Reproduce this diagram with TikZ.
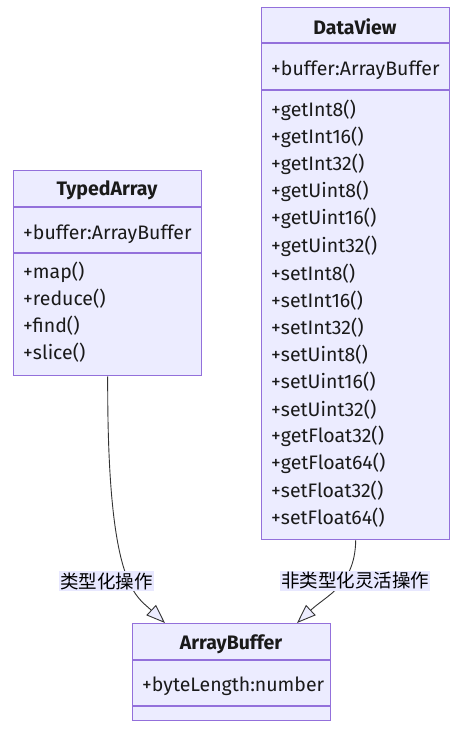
\documentclass[tikz,border=0pt]{standalone}
\usepackage{fontspec}
\setmainfont{Fira Sans}
\newfontfamily\cjk{Noto Sans CJK SC}
\usetikzlibrary{arrows.meta}
\definecolor{boxfill}{HTML}{ECECFF}
\definecolor{boxline}{HTML}{9370DB}
\definecolor{txt}{HTML}{1A1A1A}
\definecolor{lbl}{HTML}{E8E8FF}
\definecolor{edge}{HTML}{333333}
\tikzset{
  box/.style={draw=boxline, fill=boxfill, line width=1.4pt, inner sep=0pt, anchor=north west},
  sep/.style={draw=boxline, line width=1.1pt},
  ttl/.style={font=\fontsize{19.5}{22}\selectfont\bfseries, text=txt, inner sep=0pt},
  mem/.style={font=\fontsize{19.5}{22}\selectfont, text=txt, inner sep=0pt, anchor=west},
  elabel/.style={font=\cjk\fontsize{18.5}{20}\selectfont, text=black, fill=lbl, inner sep=1pt},
  rel/.style={draw=edge, line width=0.9pt, -{Triangle[open, length=19pt, width=14pt, fill=boxfill]}},
}
\begin{document}
\begin{tikzpicture}[x=1pt, y=-1pt]
\useasboundingbox (0,0) rectangle (467,729);
% TypedArray
\node[box, minimum width=188pt, minimum height=205pt] (ta) at (13,170) {};
\draw[sep] (13,207) -- (201,207);
\draw[sep] (13,253) -- (201,253);
\node[ttl] (tat) at (107,190) {TypedArray};
\node[mem] (taa) at (23,234) {+buffer:ArrayBuffer};
\foreach \t [count=\i from 0] in {+map(), +reduce(), +find(), +slice()}
  \node[mem] (tam\i) at (23,272+27*\i) {\t};
% DataView
\node[box, minimum width=188pt, minimum height=532pt] (dv) at (261,7) {};
\draw[sep] (261,43) -- (449,43);
\draw[sep] (261,90) -- (449,90);
\node[ttl] (dvt) at (355,27) {DataView};
\node[mem] (dva) at (271,70) {+buffer:ArrayBuffer};
\foreach \t [count=\i from 0] in {+getInt8(), +getInt16(), +getInt32(), +getUint8(), +getUint16(), +getUint32(), +setInt8(), +setInt16(), +setInt32(), +setUint8(), +setUint16(), +setUint32(), +getFloat32(), +getFloat64(), +setFloat32(), +setFloat64()}
  \node[mem] (dvm\i) at (271,110+27.2*\i) {\t};
% ArrayBuffer
\node[box, minimum width=198pt, minimum height=97pt] (ab) at (132,623) {};
\draw[sep] (132,660) -- (330,660);
\draw[sep] (132,706) -- (330,706);
\node[ttl] (abt) at (231,644) {ArrayBuffer};
\node[mem] (aba) at (142,686) {+byteLength:number};
% edges
\coordinate (t1) at (165,623);
\coordinate (t2) at (297,623);
\draw[rel] (ta.south) .. controls (107,585) and (135,595) .. (t1);
\draw[rel] (dv.south) .. controls (355,585) and (327,595) .. (t2);
\node[elabel] (l1) at (106.5,581) {类型化操作};
\node[elabel] (l2) at (355,581) {非类型化灵活操作};
\end{tikzpicture}
\end{document}
